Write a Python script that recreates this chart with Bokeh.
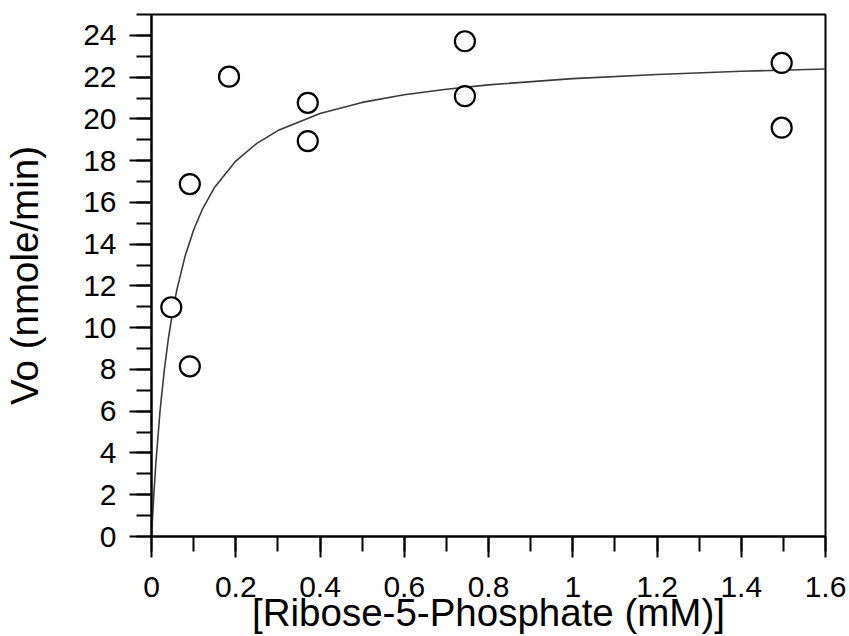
from bokeh.plotting import figure
from bokeh.models import Range1d, SingleIntervalTicker, CustomJSTickFormatter
from bokeh.embed import file_html
from bokeh.resources import INLINE

# Measured data: substrate concentration (mM) and initial velocity (nmole/min)
substrate_mM = [0.047, 0.091, 0.091, 0.184, 0.371, 0.371, 0.744, 0.744, 1.496, 1.496]
velocity = [10.98, 16.88, 8.15, 22.02, 20.77, 18.94, 23.72, 21.09, 22.68, 19.58]

# Fitted saturation curve
curve_x = [0, 0.005, 0.01, 0.02, 0.03, 0.04, 0.05, 0.06, 0.08, 0.10, 0.12, 0.15,
           0.2, 0.25, 0.3, 0.4, 0.5, 0.6, 0.7, 0.8, 1.0, 1.2, 1.4, 1.6]
curve_y = [0, 1.84, 3.41, 5.95, 7.91, 9.47, 10.74, 11.80, 13.45, 14.68, 15.64, 16.73,
           17.98, 18.83, 19.44, 20.26, 20.79, 21.16, 21.42, 21.63, 21.93, 22.13, 22.28, 22.39]

x_title = "[Ribose-5-Phosphate (mM)]"
y_title = "Vo (nmole/min)"

FONT = "Liberation Sans"

p = figure(width=849, height=636, output_backend="svg", toolbar_location=None,
           x_range=Range1d(0, 1.6), y_range=Range1d(0, 25),
           min_border_left=150, min_border_right=24, min_border_top=14, min_border_bottom=99)

p.grid.visible = False
p.background_fill_color = "white"
p.border_fill_color = "white"
p.outline_line_color = "black"
p.outline_line_width = 2

p.line(curve_x, curve_y, line_color="#3a3a3a", line_width=1.6)
p.scatter(substrate_mM, velocity, marker="circle", size=20, fill_color="white",
          line_color="black", line_width=2.2)

xa = p.xaxis[0]
ya = p.yaxis[0]
xa.ticker = SingleIntervalTicker(interval=0.2, num_minor_ticks=2)
ya.ticker = SingleIntervalTicker(interval=2, num_minor_ticks=2)
xa.formatter = CustomJSTickFormatter(code="return String(Math.round(tick*10)/10);")

for ax in (xa, ya):
    ax.axis_line_width = 2
    ax.axis_line_color = "black"
    ax.major_tick_line_width = 2
    ax.minor_tick_line_width = 2
    ax.major_tick_line_color = "black"
    ax.minor_tick_line_color = "black"
    ax.major_tick_in = 0
    ax.minor_tick_in = 0
    ax.major_label_text_font = FONT
    ax.major_label_text_font_size = "30px"
    ax.major_label_text_color = "black"
    ax.axis_label_text_font = FONT
    ax.axis_label_text_font_size = "38.5px"
    ax.axis_label_text_font_style = "normal"
    ax.axis_label_text_color = "black"

xa.major_tick_out = 21
xa.minor_tick_out = 15
ya.major_tick_out = 22
ya.minor_tick_out = 15
xa.major_label_standoff = 19
ya.major_label_standoff = 13
xa.axis_label = x_title
ya.axis_label = y_title
xa.axis_label_standoff = -9
ya.axis_label_standoff = 34

open("out.html", "w").write(file_html(p, INLINE))
